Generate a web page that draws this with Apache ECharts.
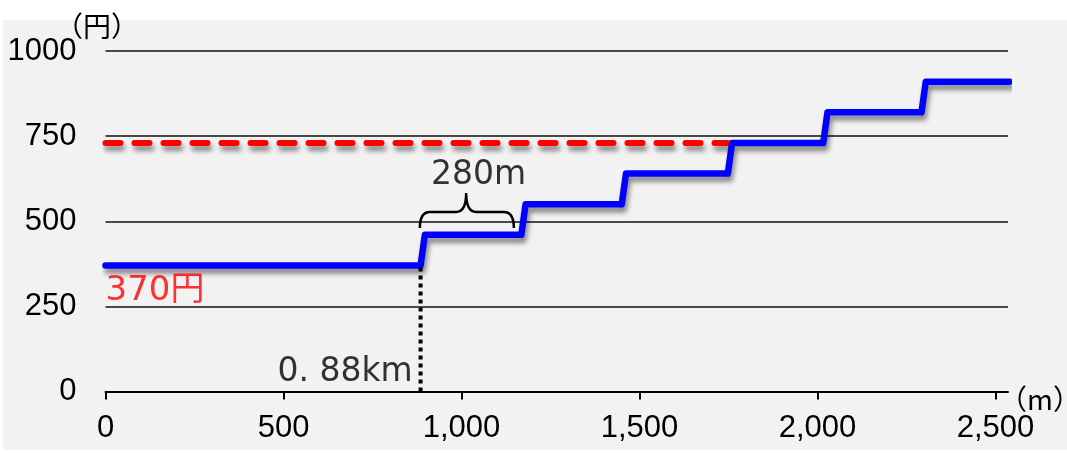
<!DOCTYPE html>
<html><head><meta charset="utf-8">
<script src="https://cdn.jsdelivr.net/npm/echarts@6/dist/echarts.min.js"></script>
<style>html,body{margin:0;padding:0;background:#fff}#c{width:1067px;height:453px}</style>
</head><body><div id="c"></div>
<script>
// ---- data ----
const fareLevels = [370, 460, 550, 640, 730, 820, 910];      // 円
const stepStarts = [885, 1168, 1450, 1748, 2016, 2292];      // m (start of each fare step)
const riserWidth = 12;                                        // m, slant of each riser
const routeEnd = 2539;                                        // m
const referenceFare = 730;                                    // red dashed level
const referenceEnd = 1748;                                    // m
const initialDistance = 885;                                  // 0.88km marker
const xTicks = [0, 500, 1000, 1500, 2000, 2500];
const xTickLabels = ['0', '500', '1,000', '1,500', '2,000', '2,500'];
const yTicks = [0, 250, 500, 750, 1000];
const yTickLabels = ['0', '250', '500', '750', '1000'];
const braceLeft = 883, braceRight = 1147, braceCusp = 1013, braceLow = 480, braceHigh = 583;
const annoTexts = ['280m', '0. 88km', '370円'];
const annoX = [1048, 863, 0];
const annoY = [636, 57, 295];

// ---- build ----
const stepLine = [[0, fareLevels[0]]];
stepStarts.forEach((s, i) => {
  stepLine.push([s, fareLevels[i]]);
  stepLine.push([s + riserWidth, fareLevels[i + 1]]);
});
stepLine.push([routeEnd, fareLevels[fareLevels.length - 1]]);

const shadow = {shadowColor: 'rgba(0,0,0,0.45)', shadowBlur: 5, shadowOffsetX: 2, shadowOffsetY: 5};
const latin = "'Liberation Sans', Arial, sans-serif";
const jp = "'DejaVu Sans', 'Noto Sans CJK JP', sans-serif";

const annoStyles = [
  {align: 'center', color: '#000000', fontSize: 33},
  {align: 'right', color: '#000000', fontSize: 33},
  {align: 'left', color: '#ff0000', fontSize: 34}
];

const chart = echarts.init(document.getElementById('c'), null, {renderer: 'canvas'});
chart.setOption({
  animation: false,
  backgroundColor: '#ffffff',
  graphic: [{type: 'rect', z: -100, shape: {x: 3, y: 20, width: 1064, height: 430}, style: {fill: '#f2f2f2'}}],
  grid: {left: 105.5, right: 59, top: 51, bottom: 61.5, containLabel: false, outerBoundsMode: 'none'},
  xAxis: {
    type: 'value', min: 0, max: routeEnd - 4, interval: 500,
    name: '（m）', nameLocation: 'end', nameGap: -9, nameMoveOverlap: false,
    nameTextStyle: {fontFamily: "'Noto Sans CJK JP', sans-serif", fontSize: 28, color: '#000', align: 'left', verticalAlign: 'top', lineHeight: 16},
    axisLine: {show: true, lineStyle: {color: '#000', width: 2}},
    axisTick: {show: true, customValues: xTicks, length: 8, lineStyle: {color: '#000', width: 2}},
    axisLabel: {customValues: xTicks, margin: 21, fontFamily: latin, fontSize: 31, color: '#000',
      formatter: v => xTickLabels[xTicks.indexOf(v)] ?? ''},
    splitLine: {show: false}
  },
  yAxis: {
    type: 'value', min: 0, max: 1000, interval: 250,
    name: '（円）', nameLocation: 'end', nameGap: 11, nameMoveOverlap: false,
    nameTextStyle: {fontFamily: "'Noto Sans CJK JP', sans-serif", fontSize: 28, color: '#000', align: 'center', padding: [0, 17, 0, 0]},
    axisLine: {show: false}, axisTick: {show: false},
    axisLabel: {margin: 29, fontFamily: latin, fontSize: 31, color: '#000',
      formatter: v => yTickLabels[yTicks.indexOf(v)] ?? ''},
    splitLine: {show: true, lineStyle: {color: '#111', width: 1.5}}
  },
  series: [
    {
      type: 'line', data: [[0, referenceFare], [referenceEnd, referenceFare]], showSymbol: false, z: 3,
      lineStyle: Object.assign({color: '#ff0000', width: 6, type: [15, 14], cap: 'round'}, shadow)
    },
    {
      type: 'line', data: stepLine, showSymbol: false, z: 4,
      lineStyle: Object.assign({color: '#0000ff', width: 6.5, cap: 'round', join: 'round'}, shadow)
    },
    {
      type: 'line', data: [[initialDistance, 0], [initialDistance, fareLevels[0]]], showSymbol: false, z: 5,
      lineStyle: {color: '#000', width: 4, type: [4, 4], cap: 'butt'}
    },
    {
      type: 'custom', z: 6, data: [[braceLeft, braceRight, braceCusp, braceLow, braceHigh]],
      renderItem: (params, api) => {
        const l = api.coord([api.value(0), api.value(3)]);
        const r = api.coord([api.value(1), api.value(3)]);
        const m = api.coord([api.value(2), api.value(4)]);
        const yMid = m[1] + (l[1] - m[1]) * 0.54;
        const rr = 10;
        const d = `M${l[0]} ${l[1]} Q${l[0]} ${yMid} ${l[0] + rr} ${yMid} L${m[0] - rr} ${yMid} Q${m[0]} ${yMid} ${m[0]} ${m[1]} Q${m[0]} ${yMid} ${m[0] + rr} ${yMid} L${r[0] - rr} ${yMid} Q${r[0]} ${yMid} ${r[0]} ${r[1]}`;
        return {type: 'path', shape: {pathData: d}, style: {fill: 'none', stroke: '#000', lineWidth: 2.5}};
      }
    },
    {
      type: 'scatter', z: 7, symbolSize: 0, silent: true,
      data: annoTexts.map((t, i) => ({
        value: [annoX[i], annoY[i]],
        label: {show: true, formatter: t, position: [0, 0], verticalAlign: 'middle',
          align: annoStyles[i].align, color: annoStyles[i].color, fontSize: annoStyles[i].fontSize, fontFamily: jp}
      }))
    }
  ]
});
</script></body></html>
